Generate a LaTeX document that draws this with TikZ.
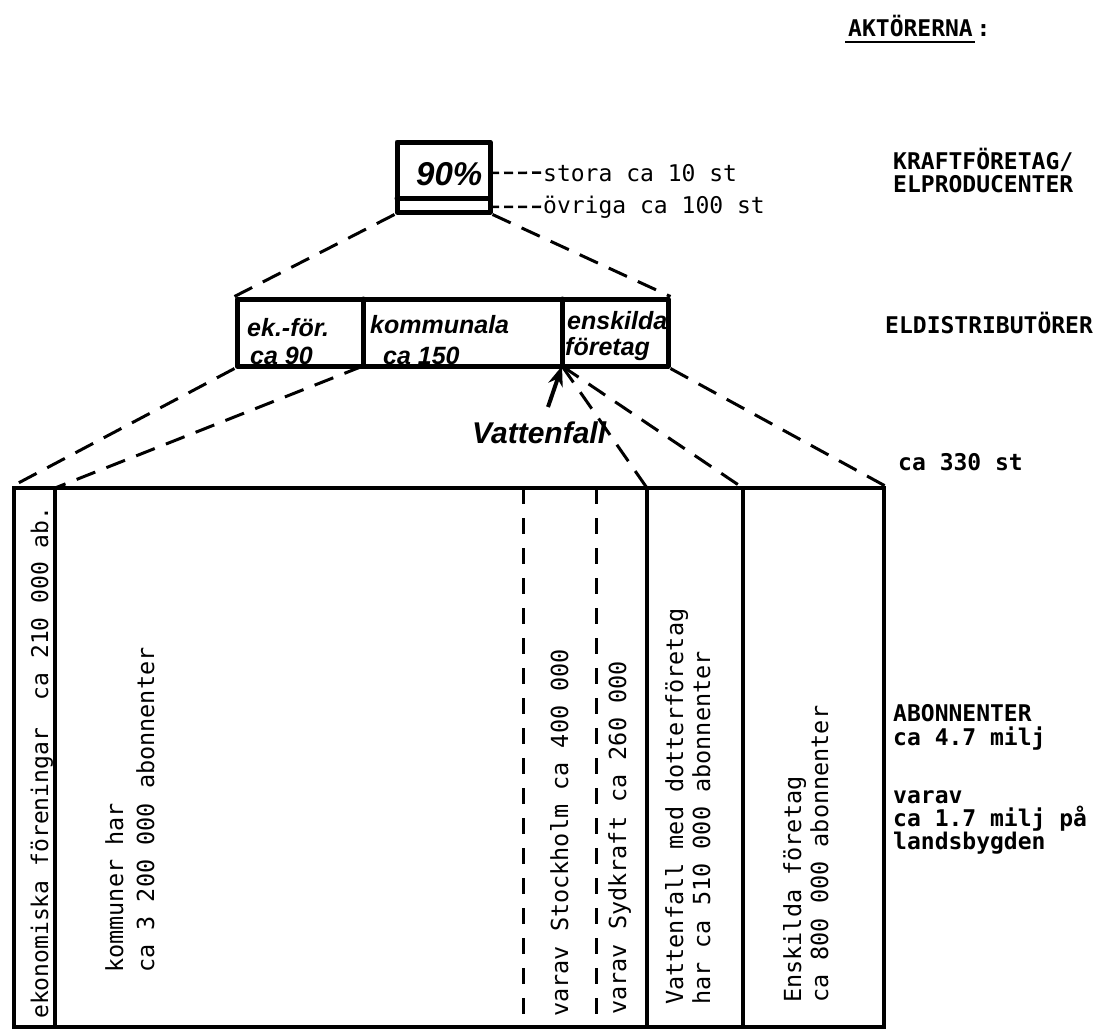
\documentclass[tikz,border=0pt]{standalone}
\usepackage{fontspec}
\setmainfont{DejaVu Sans}
\newfontfamily\typew{DejaVu Sans Mono}
\newfontfamily\hand{Liberation Sans}
\usetikzlibrary{arrows.meta}
\tikzset{
  heavy/.style={line width=5pt, line join=round, line cap=round},
  colline/.style={line width=3.5pt, line cap=round},
  dashline/.style={line width=3pt, dash pattern=on 20pt off 12pt},
  coldash/.style={line width=3pt, dash pattern=on 16pt off 14pt},
  leader/.style={line width=2.5pt, dash pattern=on 9pt off 5pt},
  typed/.style={font=\typew\fontsize{23.5}{27}\selectfont, inner sep=0pt},
  rtyped/.style={typed, rotate=90, anchor=base west},
  rlabel/.style={font=\typew\bfseries\fontsize{23}{27}\selectfont, inner sep=0pt, anchor=base west},
  handw/.style={font=\hand\bfseries\itshape\fontsize{25}{28}\selectfont, inner sep=0pt, anchor=base west},
}
\begin{document}
\begin{tikzpicture}[x=1pt,y=-1pt]
\useasboundingbox (0,0) rectangle (1102,1031);

% ---------- top box: Kraftforetag ----------
\node[heavy, draw, minimum width=93pt, minimum height=70pt, inner sep=0pt] (top) at (443.5,177) {};
\coordinate (sepL) at (397,198);
\coordinate (sepR) at (490,198);
\draw[heavy] (sepL) -- (sepR);
\node[handw, font=\hand\bfseries\itshape\fontsize{33}{36}\selectfont] (pct) at (416,185) {90\%};

\node[rlabel, font=\typew\fontsize{23}{27}\selectfont] (stora) at (543,181) {stora ca 10 st};
\node[rlabel, font=\typew\fontsize{23}{27}\selectfont] (ovriga) at (543,213) {övriga ca 100 st};
\coordinate (l1) at (490,173);
\coordinate (l2) at (490,207);
\draw[leader] (l1) -- (stora.west);
\draw[leader] (l2) -- (ovriga.west);

% ---------- middle box: Eldistributorer ----------
\node[heavy, draw, minimum width=431pt, minimum height=67pt, inner sep=0pt] (mid) at (452.5,332.5) {};
\coordinate (d1t) at (363,299);
\coordinate (d1b) at (363,366);
\coordinate (d2t) at (562,299);
\coordinate (d2b) at (562,366);
\draw[heavy] (d1t) -- (d1b);
\draw[heavy] (d2t) -- (d2b);
\node[handw] (ekf) at (247,336) {ek.-för.};
\node[handw] (ek90) at (250,364) {ca 90};
\node[handw] (komm) at (370,333) {kommunala};
\node[handw] (k150) at (383,364) {ca 150};
\node[handw] (ensk) at (567,329) {enskilda};
\node[handw] (fore) at (565,355) {företag};

% ---------- columns: abonnenter ----------
\node[colline, draw, minimum width=870pt, minimum height=539pt, inner sep=0pt] (cols) at (449,757.5) {};
\coordinate (c1t) at (55,488);   \coordinate (c1b) at (55,1027);
\coordinate (c2t) at (523,488);  \coordinate (c2b) at (523,1027);
\coordinate (c3t) at (596,488);  \coordinate (c3b) at (596,1027);
\coordinate (c4t) at (647,488);  \coordinate (c4b) at (647,1027);
\coordinate (c5t) at (743,488);  \coordinate (c5b) at (743,1027);
\draw[colline] (c1t) -- (c1b);
\draw[coldash] (c2t) -- (c2b);
\draw[coldash] (c3t) -- (c3b);
\draw[colline] (c4t) -- (c4b);
\draw[colline] (c5t) -- (c5b);

\node[rtyped, font=\typew\fontsize{23}{27}\selectfont] (t1) at (48,1019) {ekonomiska föreningar\ \ ca 210 000 ab.};
\node[rtyped] (t2a) at (123,973) {kommuner har};
\node[rtyped] (t2b) at (154,973) {ca 3 200 000 abonnenter};
\node[rtyped] (t3) at (568,1017) {varav Stockholm ca 400 000};
\node[rtyped] (t4) at (626,1015) {varav Sydkraft ca 260 000};
\node[rtyped] (t5a) at (683,1005) {Vattenfall med dotterföretag};
\node[rtyped] (t5b) at (710,1005) {har ca 510 000 abonnenter};
\node[rtyped] (t6a) at (801,1003) {Enskilda företag};
\node[rtyped] (t6b) at (828,1003) {ca 800 000 abonnenter};

% ---------- dashed connectors ----------
\draw[dashline] (top.south west) -- (mid.north west);
\draw[dashline] (top.south east) -- (mid.north east);
\draw[dashline] (mid.south west) -- (cols.north west);
\draw[dashline] (d1b) -- (c1t);
\draw[dashline] (d2b) -- (c4t);
\draw[dashline] (d2b) -- (c5t);
\draw[dashline] (mid.south east) -- (cols.north east);

% ---------- Vattenfall arrow ----------
\node[handw, font=\hand\bfseries\itshape\fontsize{30}{33}\selectfont] (vf) at (472,443) {Vattenfall};
\coordinate (vtail) at (548,407);
\draw[line width=4pt, -{Stealth[length=20pt,width=15pt]}] (vtail) -- (d2b);

% ---------- right-hand labels ----------
\node[rlabel] (akt) at (848,36) {AKTÖRERNA\,:};
\coordinate (u1) at (845,42);
\coordinate (u2) at (975,42);
\draw[line width=2pt] (u1) -- (u2);
\node[rlabel] (kraft1) at (893,169) {KRAFTFÖRETAG/};
\node[rlabel] (kraft2) at (893,192) {ELPRODUCENTER};
\node[rlabel] (eld) at (885,333) {ELDISTRIBUTÖRER};
\node[rlabel] (c330) at (898,470) {ca 330 st};
\node[rlabel] (ab1) at (893,721) {ABONNENTER};
\node[rlabel] (ab2) at (893,745) {ca 4.7 milj};
\node[rlabel] (ab3) at (893,803) {varav};
\node[rlabel] (ab4) at (893,826) {ca 1.7 milj på};
\node[rlabel] (ab5) at (893,849) {landsbygden};
\end{tikzpicture}
\end{document}
